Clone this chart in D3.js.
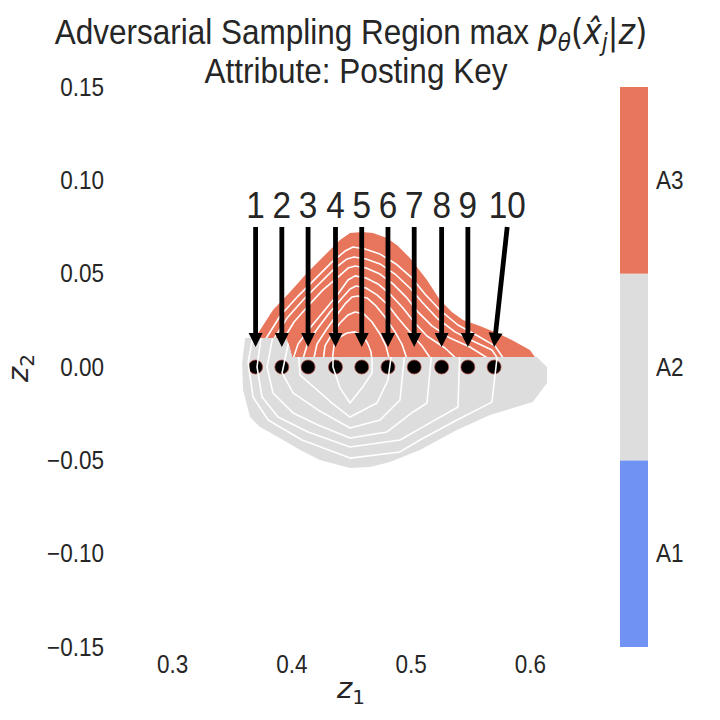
<!DOCTYPE html>
<html lang="en">
<head>
<meta charset="UTF-8">
<title>Adversarial Sampling Region</title>
<script src="https://d3js.org/d3.v7.min.js"></script>
<style>
    body { margin: 0; background: white; }
    svg { font-family: "Liberation Sans", Arial, sans-serif; }
    .tick text { fill: #262626; }
    .math { font-family: "DejaVu Sans", sans-serif; font-style: italic; }
    .contour { fill: none; stroke: white; stroke-width: 1.6px; stroke-linejoin: round; }
</style>
</head>
<body>
<script>
    const width = 720;
    const height = 720;
    const squeeze = 0.9; // the reference text is a little narrower than Liberation Sans

    // sampled latent points along z1 (z2 = 0) and their labels
    const dotsZ1 = [0.370, 0.392, 0.414, 0.437, 0.459, 0.481, 0.503, 0.526, 0.548, 0.570];
    const labelZ1 = [0.370, 0.392, 0.414, 0.437, 0.459, 0.481, 0.503, 0.526, 0.548, 0.581];
    const labelText = ["1", "2", "3", "4", "5", "6", "7", "8", "9", "10"];
    const textZ2 = 0.08;
    const arrowFromZ2 = 0.075;
    const arrowToZ2 = 0.0107;

    const xTicks = [0.3, 0.4, 0.5, 0.6];
    const yTicks = [-0.15, -0.10, -0.05, 0.00, 0.05, 0.10, 0.15];

    const classNames = ["A1", "A2", "A3"];
    const classColors = ["#7093F3", "#DDDDDD", "#E8765C"];

    // outer density contour, A3 part (above the class border)
    const redOuter = [[0.3696,0.0155],[0.3754,0.0214],[0.3846,0.0305],[0.3989,0.0402],[0.4131,0.0504],
      [0.4265,0.0589],[0.4408,0.0680],[0.4492,0.0718],[0.4592,0.0723],[0.4684,0.0718],[0.4802,0.0691],
      [0.4894,0.0648],[0.4994,0.0584],[0.5137,0.0466],[0.5246,0.0359],[0.5346,0.0295],[0.5439,0.0252],
      [0.5581,0.0220],[0.5724,0.0182],[0.5849,0.0145],[0.6000,0.0091],[0.6042,0.0054],[0.4006,0.0054],
      [0.3980,0.0118],[0.3955,0.0155]];

    // outer density contour, A2 part (below the class border)
    const greyOuter = [[0.3612,0.0155],[0.3955,0.0155],[0.3980,0.0118],[0.4006,0.0054],[0.6059,0.0054],
      [0.6143,0.0000],[0.6143,-0.0086],[0.6025,-0.0188],[0.5665,-0.0257],[0.5388,-0.0338],[0.5078,-0.0445],
      [0.4827,-0.0509],[0.4659,-0.0536],[0.4492,-0.0541],[0.4240,-0.0498],[0.4073,-0.0445],[0.3888,-0.0375],
      [0.3737,-0.0321],[0.3654,-0.0268],[0.3595,-0.0123],[0.3587,0.0021]];

    // inner contour lines in the A3 region
    const redLines = [
      [[0.3754,0.0118],[0.3905,0.0273],[0.4056,0.0380],[0.4198,0.0471],[0.4341,0.0563],[0.4450,0.0621],
       [0.4517,0.0643],[0.4617,0.0632],[0.4743,0.0605],[0.4877,0.0552],[0.5011,0.0477],[0.5120,0.0391],
       [0.5246,0.0305],[0.5397,0.0225],[0.5564,0.0166],[0.5707,0.0113],[0.5799,0.0027]],
      [[0.3821,0.0118],[0.3964,0.0262],[0.4098,0.0359],[0.4240,0.0450],[0.4366,0.0530],[0.4467,0.0579],
       [0.4525,0.0589],[0.4626,0.0579],[0.4743,0.0552],[0.4869,0.0498],[0.4994,0.0423],[0.5095,0.0348],
       [0.5221,0.0262],[0.5372,0.0188],[0.5539,0.0134],[0.5682,0.0091],[0.5749,0.0027]],
      [[0.3905,0.0118],[0.4022,0.0241],[0.4140,0.0327],[0.4265,0.0413],[0.4391,0.0482],[0.4475,0.0530],
       [0.4534,0.0541],[0.4626,0.0530],[0.4743,0.0498],[0.4852,0.0445],[0.4969,0.0370],[0.5061,0.0295],
       [0.5179,0.0220],[0.5330,0.0155],[0.5497,0.0107],[0.5698,0.0027]],
      [[0.4006,0.0027],[0.4056,0.0123],[0.4156,0.0209],[0.4274,0.0300],[0.4391,0.0391],[0.4475,0.0466],
       [0.4534,0.0488],[0.4626,0.0477],[0.4726,0.0445],[0.4827,0.0391],[0.4936,0.0316],[0.5028,0.0241],
       [0.5137,0.0166],[0.5288,0.0102],[0.5413,0.0027]],
      [[0.4089,0.0027],[0.4140,0.0134],[0.4223,0.0209],[0.4324,0.0295],[0.4425,0.0370],[0.4492,0.0418],
       [0.4542,0.0434],[0.4626,0.0423],[0.4718,0.0386],[0.4810,0.0332],[0.4894,0.0262],[0.4994,0.0188],
       [0.5095,0.0113],[0.5187,0.0027]],
      [[0.4182,0.0027],[0.4215,0.0123],[0.4291,0.0198],[0.4374,0.0273],[0.4450,0.0338],[0.4508,0.0375],
       [0.4559,0.0380],[0.4634,0.0370],[0.4710,0.0327],[0.4785,0.0268],[0.4869,0.0188],[0.4927,0.0123],
       [0.4978,0.0027]],
      [[0.4265,0.0027],[0.4282,0.0113],[0.4341,0.0177],[0.4408,0.0236],[0.4475,0.0279],[0.4534,0.0295],
       [0.4609,0.0284],[0.4676,0.0241],[0.4743,0.0177],[0.4793,0.0113],[0.4827,0.0027]],
      [[0.4341,0.0027],[0.4358,0.0118],[0.4408,0.0161],[0.4467,0.0182],[0.4534,0.0188],[0.4601,0.0166],
       [0.4642,0.0123],[0.4668,0.0080],[0.4676,0.0027]]
    ];

    // inner contour lines in the A2 region
    const greyLines = [
      [[0.3687,0.0198],[0.3637,0.0021],[0.3679,-0.0161],[0.3805,-0.0284],[0.4089,-0.0391],[0.4492,-0.0488],
       [0.4911,-0.0455],[0.5078,-0.0391],[0.5388,-0.0284],[0.5682,-0.0188],[0.5732,0.0091]],
      [[0.3754,0.0198],[0.3712,0.0000],[0.3754,-0.0161],[0.3888,-0.0268],[0.4140,-0.0348],[0.4492,-0.0429],
       [0.4911,-0.0391],[0.5103,-0.0321],[0.5397,-0.0214],[0.5413,0.0091]],
      [[0.3855,0.0198],[0.3796,0.0000],[0.3846,-0.0139],[0.4014,-0.0246],[0.4223,-0.0311],[0.4492,-0.0380],
       [0.4802,-0.0348],[0.5020,-0.0241],[0.5137,-0.0193],[0.5179,0.0091]],
      [[0.3989,0.0171],[0.3922,-0.0032],[0.4014,-0.0139],[0.4223,-0.0230],[0.4492,-0.0327],[0.4743,-0.0284],
       [0.4911,-0.0177],[0.4953,0.0091]],
      [[0.4056,0.0091],[0.4073,-0.0043],[0.4198,-0.0113],[0.4341,-0.0193],[0.4492,-0.0268],[0.4718,-0.0193],
       [0.4810,-0.0070],[0.4844,0.0091]],
      [[0.4349,0.0091],[0.4349,0.0000],[0.4408,-0.0113],[0.4492,-0.0193],[0.4592,-0.0113],[0.4676,-0.0032],
       [0.4676,0.0091]]
    ];

    const svg = d3.select("body").append("svg")
      .attr("width", width)
      .attr("height", height);

    const x = d3.scaleLinear().domain([0.25, 0.65]).range([112.5, 589.5]);
    const y = d3.scaleLinear().domain([-0.15, 0.15]).range([647, 87]);
    const line = d3.line().x(d => x(d[0])).y(d => y(d[1]));

    // place a text at (px, py) and narrow it horizontally around that anchor
    function placeText(sel, px, py) {
      return sel.attr("transform", `translate(${px},${py}) scale(${squeeze},1)`);
    }

    const defs = svg.append("defs");
    defs.append("clipPath").attr("id", "clipRed")
      .append("path").attr("d", line(redOuter) + "Z");
    defs.append("clipPath").attr("id", "clipGrey")
      .append("path").attr("d", line(greyOuter) + "Z");

    // filled regions
    svg.append("path").attr("d", line(redOuter) + "Z").attr("fill", classColors[2]);
    svg.append("path").attr("d", line(greyOuter) + "Z").attr("fill", classColors[1]);

    // sampled points
    svg.selectAll(".dot")
      .data(dotsZ1)
      .enter()
      .append("circle")
      .attr("class", "dot")
      .attr("cx", d => x(d))
      .attr("cy", y(0))
      .attr("r", 7)
      .attr("fill", "black")
      .attr("stroke", "#b8453a")
      .attr("stroke-width", 0.7);

    // contour lines
    svg.append("g").attr("clip-path", "url(#clipRed)")
      .selectAll("path").data(redLines).enter().append("path")
      .attr("class", "contour").attr("d", line);
    svg.append("g").attr("clip-path", "url(#clipGrey)")
      .selectAll("path").data(greyLines).enter().append("path")
      .attr("class", "contour").attr("d", line);

    // arrows from labels to points
    function arrowPoints(ax, ay, bx, by) {
      const dx = bx - ax, dy = by - ay;
      const len = Math.sqrt(dx * dx + dy * dy);
      const ux = dx / len, uy = dy / len;
      const nx = -uy, ny = ux;
      const hl = 14, hw = 7, sw = 2.4;
      const cx = bx - ux * hl, cy = by - uy * hl;
      return [
        [ax + nx * sw, ay + ny * sw], [cx + nx * sw, cy + ny * sw], [cx + nx * hw, cy + ny * hw],
        [bx, by],
        [cx - nx * hw, cy - ny * hw], [cx - nx * sw, cy - ny * sw], [ax - nx * sw, ay - ny * sw]
      ].map(p => p.join(",")).join(" ");
    }

    svg.selectAll(".arrow")
      .data(dotsZ1)
      .enter()
      .append("polygon")
      .attr("class", "arrow")
      .attr("points", (d, i) => arrowPoints(x(labelZ1[i]), y(arrowFromZ2), x(d), y(arrowToZ2)))
      .attr("fill", "black");

    svg.selectAll(".num")
      .data(labelText)
      .enter()
      .append("text")
      .attr("class", "num")
      .attr("transform", (d, i) => `translate(${x(labelZ1[i])},${y(textZ2)}) scale(${squeeze},1)`)
      .attr("text-anchor", "middle")
      .attr("font-size", 37)
      .attr("fill", "#262626")
      .text(d => d);

    // axes
    const yAxis = svg.append("g")
      .attr("transform", "translate(112.5,0)")
      .call(d3.axisLeft(y).tickValues(yTicks).tickSize(0).tickPadding(9.5).tickFormat(d3.format(".2f")));
    const xAxis = svg.append("g")
      .attr("transform", "translate(0,647)")
      .call(d3.axisBottom(x).tickValues(xTicks).tickSize(0).tickPadding(8).tickFormat(d3.format(".1f")));
    [xAxis, yAxis].forEach(g => {
      g.select(".domain").remove();
      g.attr("font-size", 25).attr("font-family", null);
      g.selectAll(".tick text").attr("transform", `scale(${squeeze},1)`);
    });

    // axis labels
    const xl = svg.append("text").attr("x", 351).attr("y", 698)
      .attr("text-anchor", "middle").attr("fill", "#262626").attr("font-size", 29);
    xl.append("tspan").attr("class", "math").text("z");
    xl.append("tspan").attr("font-family", "DejaVu Sans").attr("font-size", 20).attr("dy", 6).text("1");

    const yl = svg.append("text").attr("transform", "translate(28,368) rotate(-90)")
      .attr("text-anchor", "middle").attr("fill", "#262626").attr("font-size", 29);
    yl.append("tspan").attr("class", "math").text("z");
    yl.append("tspan").attr("font-family", "DejaVu Sans").attr("font-size", 20).attr("dy", 6).text("2");

    // title
    const t1 = placeText(svg.append("text"), 351, 44)
      .attr("text-anchor", "middle").attr("fill", "#262626").attr("font-size", 35);
    t1.append("tspan").text("Adversarial Sampling Region max ");
    t1.append("tspan").attr("class", "math").text("p");
    t1.append("tspan").attr("class", "math").attr("font-size", 24).attr("dy", 7).text("\u03b8");
    t1.append("tspan").attr("font-family", "DejaVu Sans").attr("dy", -7).text("(");
    t1.append("tspan").attr("class", "math").text("x\u0302");
    t1.append("tspan").attr("class", "math").attr("font-size", 24).attr("dy", 7).text("j");
    t1.append("tspan").attr("font-family", "DejaVu Sans").attr("dy", -7).text("|");
    t1.append("tspan").attr("class", "math").text("z");
    t1.append("tspan").attr("font-family", "DejaVu Sans").text(")");

    placeText(svg.append("text"), 356, 83)
      .attr("text-anchor", "middle").attr("fill", "#262626").attr("font-size", 35)
      .text("Attribute: Posting Key");

    // colour bar
    const cb = d3.scaleLinear().domain([0, classNames.length]).range([647, 87]);
    svg.selectAll(".cbar")
      .data(classNames)
      .enter()
      .append("rect")
      .attr("class", "cbar")
      .attr("x", 620)
      .attr("width", 28)
      .attr("y", (d, i) => cb(i + 1))
      .attr("height", (d, i) => cb(i) - cb(i + 1))
      .attr("fill", (d, i) => classColors[i]);
    svg.selectAll(".cblab")
      .data(classNames)
      .enter()
      .append("text")
      .attr("class", "cblab")
      .attr("transform", (d, i) => `translate(656,${cb(i + 0.5)}) scale(${squeeze},1)`)
      .attr("dy", "0.35em")
      .attr("font-size", 25)
      .attr("fill", "#262626")
      .text(d => d);
</script>
</body>
</html>
